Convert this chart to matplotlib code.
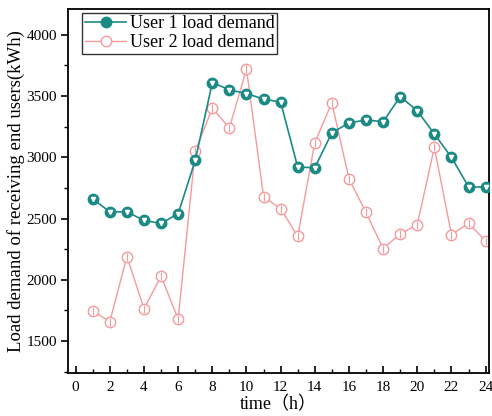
import matplotlib
matplotlib.use("Agg")
import matplotlib.pyplot as plt
from matplotlib.ticker import MultipleLocator

plt.rcParams['font.family'] = ['Liberation Serif', 'Noto Sans CJK SC', 'DejaVu Sans']
plt.rcParams['mathtext.fontset'] = 'stix'

hours = list(range(1, 25))
user1 = [2660, 2555, 2555, 2485, 2460, 2540, 2975, 3610, 3550, 3520, 3475, 3450,
         2920, 2915, 3200, 3280, 3305, 3290, 3495, 3380, 3190, 3000, 2760, 2755]
user2 = [1745, 1660, 2190, 1765, 2030, 1680, 3050, 3400, 3240, 3720, 2680, 2580,
         2355, 3120, 3445, 2825, 2550, 2255, 2375, 2450, 3080, 2370, 2460, 2320]
labels = ["User 1 load demand", "User 2 load demand"]

teal = '#1b8a85'
pink = '#f59a9c'

fig = plt.figure(figsize=(4.92, 4.16), dpi=100)
ax = fig.add_axes([68/492, 1-373/416, (489-68)/492, (373-9)/416])

ax.plot(hours, user1, color=teal, lw=1.2, marker='o', ms=7.5, mfc=teal, mec=teal,
        label=labels[0], zorder=3)
ax.plot(hours, user1, ls='none', marker='v', ms=3, mfc='white', mec='white', zorder=4)
ax.plot(hours, user2, color=pink, lw=1.0, marker='o', ms=7.5, mfc='white', mec=pink,
        mew=1.0, label=labels[1], zorder=2)
ax.plot(hours, user2, ls='none', marker='|', ms=6, mec=pink, mew=0.8, zorder=2)

ax.set_xlim(-0.45, 24.2)
ax.set_ylim(1240, 4210)
ax.xaxis.set_major_locator(MultipleLocator(2))
ax.xaxis.set_minor_locator(MultipleLocator(1))
ax.yaxis.set_major_locator(MultipleLocator(500))
ax.yaxis.set_minor_locator(MultipleLocator(250))
ax.tick_params(axis='x', which='both', direction='in', top=False, labelsize=11, pad=6)
ax.tick_params(axis='y', which='both', direction='out', right=False, labelsize=11, pad=3)
ax.tick_params(which='major', length=5, width=1.2)
ax.tick_params(which='minor', length=3, width=1.0)
for s in ax.spines.values():
    s.set_linewidth(1.3)

ax.set_xlabel("time（h）", fontsize=13, labelpad=1)
ax.set_ylabel("Load demand of receiving end users(kWh)", fontsize=13.5, labelpad=1)

leg = ax.legend(loc='upper left', fontsize=13, frameon=True, fancybox=False,
                edgecolor='black', borderpad=0.15, handlelength=2.3,
                handletextpad=0.2, labelspacing=0.1, borderaxespad=0.2,
                bbox_to_anchor=(0.025, 1.0))
leg.get_frame().set_linewidth(1.0)

fig.savefig("out.png", dpi=100)
